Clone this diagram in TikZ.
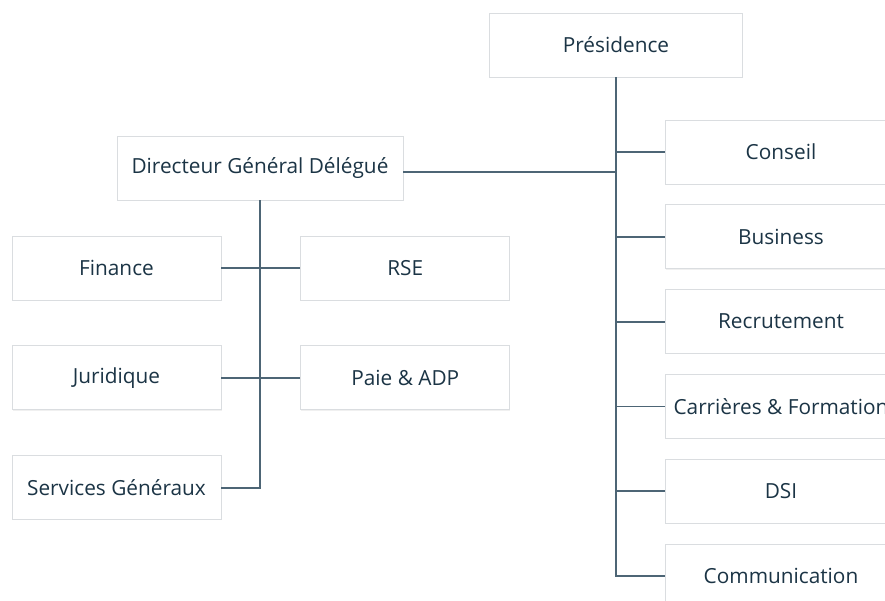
\documentclass[tikz,border=0pt]{standalone}
\usepackage{fontspec}
\setmainfont{Open Sans}
\usepackage{tikz}
\usetikzlibrary{positioning,shadows}

\definecolor{ink}{HTML}{1B3445}
\definecolor{wire}{HTML}{4D6575}
\definecolor{rim}{HTML}{DADDE0}

\begin{document}
\begin{tikzpicture}[
        x=1pt, y=-1pt,
        unit/.style={draw=rim, line width=0.8pt, fill=white, text=ink, minimum height=64pt,
            font=\fontsize{20.8}{23}\selectfont, align=center,
            drop shadow={opacity=0.12, shadow xshift=0.6pt, shadow yshift=-0.8pt}},
        staff/.style={unit, minimum width=209pt},
        side/.style={unit, minimum width=232pt},
        link/.style={draw=wire, line width=1.8pt}
    ]
    \path[use as bounding box] (0,0) rectangle (885,601);
    \clip (0,0) rectangle (885,601);

    % Nodes
    \node[unit, minimum width=253pt] (pres) at (616,45) {Présidence};
    \node[unit, minimum width=286pt] (dgd) at (260,168) {Directeur Général Délégué};

    \node[staff] (fin) at (116.5,268) {Finance};
    \node[staff, right=79pt of fin] (rse) {RSE};
    \node[staff, below=45pt of fin] (jur) {Juridique};
    \node[staff, below=45pt of rse] (paie) {Paie \& ADP};
    \node[staff, below=45pt of jur] (sg) {Services Généraux};

    \node[side] (conseil) at (781,152) {Conseil};
    \node[side, below=20pt of conseil] (business) {Business};
    \node[side, below=20pt of business] (recrut) {Recrutement};
    \node[side, below=20pt of recrut] (carrieres) {Carrières \& Formation};
    \node[side, below=20pt of carrieres] (dsi) {DSI};
    \node[side, below=20pt of dsi] (comm) {Communication};

    % Edges
    \draw[link] (pres.south) -- (pres.south |- comm.west) -- (comm.west);
    \foreach \n in {conseil,business,recrut,carrieres,dsi}
        \draw[link] (pres.south |- \n.west) -- (\n.west);
    \draw[link] ([yshift=-4pt]dgd.east) -- ([yshift=-4pt]dgd.east -| pres.south);
    \draw[link] (dgd.south) -- (dgd.south |- sg.east) -- (sg.east);
    \draw[link] (fin.east) -- (rse.west);
    \draw[link] (jur.east) -- (paie.west);

\end{tikzpicture}
\end{document}
